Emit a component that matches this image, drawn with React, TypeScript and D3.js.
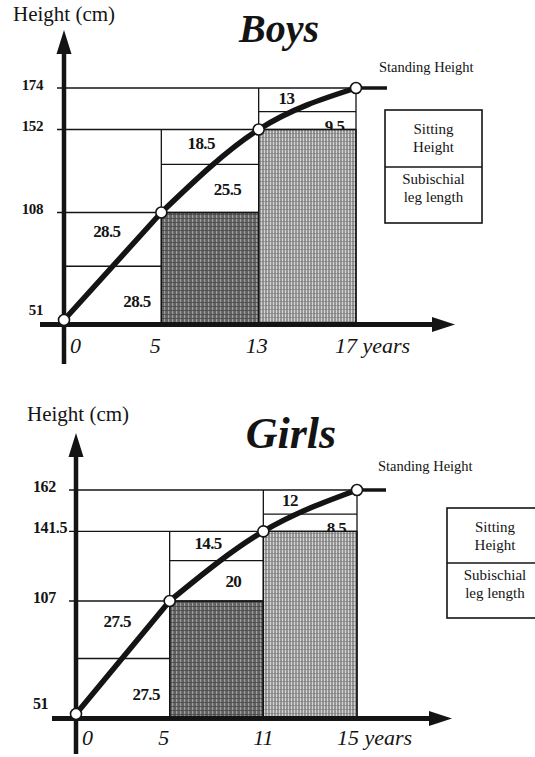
import * as d3 from "d3";

// growth intervals (years) and standing height (cm) at each age
const boysAges = [0, 5, 13, 17];
const boysHeights = [51, 108, 152, 174];
const boysSitting = [28.5, 18.5, 13];
const boysLeg = [28.5, 25.5, 9.5];

const girlsAges = [0, 5, 11, 15];
const girlsHeights = [51, 107, 141.5, 162];
const girlsSitting = [27.5, 14.5, 12];
const girlsLeg = [27.5, 20, 8.5];

const legendTop = ["Sitting", "Height"];
const legendBottom = ["Subischial", "leg length"];

// label placement inside each column box (fractions of the box)
const sitFx = [0.44, 0.41, 0.285];
const sitFy = [0.36, 0.4, 0.45];
const legFx = [0.75, 0.68, 0.78];
const legFy = [0.6, 0.52, 0.86];

const serif = "'Liberation Serif', 'Times New Roman', serif";
const ink = "#141414";

type Layout = {
  title: string;
  titleX: number;
  titleY: number;
  titleSize: number;
  unitX: number;
  unitY: number;
  xRange: [number, number];
  yRange: [number, number];
  axisTop: number;
  axisBottom: number;
  xAxisLeft: number;
  xAxisTip: number;
  tickAnchor: "start" | "end";
  tickX: number;
  tickSize: number;
  xLabelBaseline: number;
  xLabelDx: number[];
  lineEndX: number;
  standingX: number;
  standingY: number;
  legend: { x: number; y: number; w: number; h: number; mid: number };
};

const boysLayout: Layout = {
  title: "Boys",
  titleX: 279,
  titleY: 42,
  titleSize: 40,
  unitX: 13,
  unitY: 21,
  xRange: [64, 356],
  yRange: [320, 88],
  axisTop: 30,
  axisBottom: 364,
  xAxisLeft: 40,
  xAxisTip: 455,
  tickAnchor: "end",
  tickX: 43,
  tickSize: 15,
  xLabelBaseline: 353,
  xLabelDx: [6, -6, -2, -21],
  lineEndX: 387,
  standingX: 379,
  standingY: 72,
  legend: { x: 385, y: 110, w: 97, h: 113, mid: 167 }
};

const girlsLayout: Layout = {
  title: "Girls",
  titleX: 291,
  titleY: 448,
  titleSize: 44,
  unitX: 27,
  unitY: 421,
  xRange: [76, 357],
  yRange: [714, 490],
  axisTop: 433,
  axisBottom: 754,
  xAxisLeft: 52,
  xAxisTip: 452,
  tickAnchor: "start",
  tickX: 33,
  tickSize: 16,
  xLabelBaseline: 745,
  xLabelDx: [6, -6, 0, -20],
  lineEndX: 386,
  standingX: 378,
  standingY: 471,
  legend: { x: 447, y: 508, w: 96, h: 110, mid: 563 }
};

type PanelProps = {
  ages: number[];
  heights: number[];
  sitting: number[];
  leg: number[];
  L: Layout;
};

function Panel({ ages, heights, sitting, leg, L }: PanelProps) {
  const n = ages.length;
  const x = d3.scalePoint<number>().domain(ages).range(L.xRange);
  const y = d3
    .scaleLinear()
    .domain([heights[0], heights[n - 1]])
    .range(L.yRange);
  const px = (a: number) => x(a) ?? 0;
  const ax = px(ages[0]);
  const base = y(heights[0]) + 4.5;

  const pts = ages.map((a, i) => [px(a), y(heights[i])] as [number, number]);
  // first interval is drawn straight, the rest bends smoothly
  const straight = d3.line()(pts.slice(0, 2)) ?? "";
  const bend = d3.line().curve(d3.curveMonotoneX)(pts.slice(1)) ?? "";

  const columns = d3.range(n - 1).map((i) => {
    const x0 = px(ages[i]);
    const x1 = px(ages[i + 1]);
    const yLow = i === 0 ? base : y(heights[i]);
    const yMid = y(heights[i] + leg[i]);
    const yTop = y(heights[i + 1]);
    return { i, x0, x1, yLow, yMid, yTop };
  });

  return (
    <g>
      {/* labels that sit under the shaded blocks */}
      {columns.map((c) => (
        <g key={`lab-${c.i}`} fontFamily={serif} fontWeight="bold" fontSize={17} fill={ink} textAnchor="middle" letterSpacing={-0.6}>
          <text
            x={c.x0 + (c.x1 - c.x0) * sitFx[c.i]}
            y={c.yTop + (c.yMid - c.yTop) * sitFy[c.i]}
            dominantBaseline="central"
          >
            {sitting[c.i]}
          </text>
          <text
            x={c.x0 + (c.x1 - c.x0) * legFx[c.i]}
            y={c.yMid + (c.yLow - c.yMid) * legFy[c.i]}
            dominantBaseline="central"
          >
            {leg[c.i]}
          </text>
        </g>
      ))}

      {columns
        .filter((c) => c.i > 0)
        .map((c) => (
          <rect
            key={`shade-${c.i}`}
            x={c.x0}
            y={c.yLow}
            width={c.x1 - c.x0}
            height={base - c.yLow}
            fill={c.i === 1 ? "url(#shadeDark)" : "url(#shadeLight)"}
            stroke={ink}
            strokeWidth={1.3}
          />
        ))}

      {/* column dividers between leg length and sitting height */}
      {columns.map((c) => (
        <line key={`div-${c.i}`} x1={c.x0} x2={c.x1} y1={c.yMid} y2={c.yMid} stroke={ink} strokeWidth={1.3} />
      ))}

      {/* reference lines from the y axis */}
      {heights.slice(1).map((h, k) => {
        const j = k + 1;
        const end = px(ages[Math.min(j + 1, n - 1)]);
        return <line key={`h-${j}`} x1={ax - 7} x2={end} y1={y(h)} y2={y(h)} stroke={ink} strokeWidth={1.3} />;
      })}

      {ages.slice(1).map((a, k) => {
        const i = k + 1;
        const top = y(heights[Math.min(i + 1, n - 1)]);
        return <line key={`v-${i}`} x1={px(a)} x2={px(a)} y1={base} y2={top} stroke={ink} strokeWidth={1.3} />;
      })}

      {/* y tick labels */}
      {heights.map((h, i) => (
        <text
          key={`yt-${h}`}
          x={L.tickX}
          y={i === 0 ? y(h) - 5 : y(h) + 2}
          textAnchor={L.tickAnchor}
          fontFamily={serif}
          fontWeight="bold"
          fontSize={L.tickSize}
          fill={ink}
          letterSpacing={-0.4}
        >
          {h}
        </text>
      ))}

      {/* x tick labels */}
      {ages.map((a, i) => {
        const last = i === n - 1;
        const anchor = i === 0 || last ? "start" : "middle";
        return (
          <text
            key={`xt-${a}`}
            x={px(a) + L.xLabelDx[i]}
            y={L.xLabelBaseline}
            textAnchor={anchor}
            fontFamily={serif}
            fontStyle="italic"
            fontSize={22}
            fill={ink}
          >
            {last ? `${a} years` : a}
          </text>
        );
      })}

      {/* axes */}
      <line x1={ax} x2={ax} y1={L.axisBottom} y2={L.axisTop + 18} stroke={ink} strokeWidth={4.5} />
      <path
        d={`M${ax},${L.axisTop}L${ax + 7.5},${L.axisTop + 24}L${ax - 7.5},${L.axisTop + 24}Z`}
        fill={ink}
      />
      <line x1={L.xAxisLeft} x2={L.xAxisTip - 18} y1={base} y2={base} stroke={ink} strokeWidth={5} />
      <path
        d={`M${L.xAxisTip},${base}L${L.xAxisTip - 23},${base - 7.5}L${L.xAxisTip - 23},${base + 7.5}Z`}
        fill={ink}
      />

      {/* standing height curve */}
      <path d={straight} fill="none" stroke={ink} strokeWidth={5.5} strokeLinecap="round" />
      <path d={bend} fill="none" stroke={ink} strokeWidth={5.5} strokeLinecap="round" />
      <line
        x1={px(ages[n - 1])}
        x2={L.lineEndX}
        y1={y(heights[n - 1])}
        y2={y(heights[n - 1])}
        stroke={ink}
        strokeWidth={3.5}
      />
      {heights.map((h, i) => (
        <circle key={`pt-${i}`} cx={px(ages[i])} cy={y(h)} r={5.5} fill="#fff" stroke={ink} strokeWidth={1.6} />
      ))}

      {/* texts */}
      <text x={L.unitX} y={L.unitY} fontFamily={serif} fontSize={21} fill={ink}>
        Height (cm)
      </text>
      <text
        x={L.titleX}
        y={L.titleY}
        textAnchor="middle"
        fontFamily={serif}
        fontWeight="bold"
        fontStyle="italic"
        fontSize={L.titleSize}
        fill={ink}
      >
        {L.title}
      </text>
      <text x={L.standingX} y={L.standingY} fontFamily={serif} fontSize={14.5} fill={ink}>
        Standing Height
      </text>

      {/* legend */}
      <rect x={L.legend.x} y={L.legend.y} width={L.legend.w} height={L.legend.h} fill="none" stroke={ink} strokeWidth={1.6} />
      <line x1={L.legend.x} x2={L.legend.x + L.legend.w} y1={L.legend.mid} y2={L.legend.mid} stroke={ink} strokeWidth={1.6} />
      {legendTop.map((t, i) => (
        <text
          key={`lt-${t}`}
          x={L.legend.x + L.legend.w / 2}
          y={L.legend.y + 24 + i * 18}
          textAnchor="middle"
          fontFamily={serif}
          fontSize={15}
          fill={ink}
        >
          {t}
        </text>
      ))}
      {legendBottom.map((t, i) => (
        <text
          key={`lb-${t}`}
          x={L.legend.x + L.legend.w / 2}
          y={L.legend.mid + 17 + i * 18}
          textAnchor="middle"
          fontFamily={serif}
          fontSize={15}
          fill={ink}
        >
          {t}
        </text>
      ))}
    </g>
  );
}

export default function App() {
  return (
    <svg
      width={535}
      height={757}
      style={{ position: "absolute", left: 0, top: 0, background: "#fff" }}
    >
      <defs>
        <pattern id="shadeDark" width={4} height={4} patternUnits="userSpaceOnUse">
          <rect width={4} height={4} fill="#626262" />
          <rect x={0} width={1.2} height={4} fill="#a0a0a0" />
          <rect y={2} width={4} height={0.8} fill="#474747" />
        </pattern>
        <pattern id="shadeLight" width={3} height={4} patternUnits="userSpaceOnUse">
          <rect width={3} height={4} fill="#959595" />
          <rect x={0} width={1} height={4} fill="#d6d6d6" />
          <rect y={1} width={3} height={0.6} fill="#777" />
        </pattern>
      </defs>
      <Panel ages={boysAges} heights={boysHeights} sitting={boysSitting} leg={boysLeg} L={boysLayout} />
      <Panel ages={girlsAges} heights={girlsHeights} sitting={girlsSitting} leg={girlsLeg} L={girlsLayout} />
    </svg>
  );
}
